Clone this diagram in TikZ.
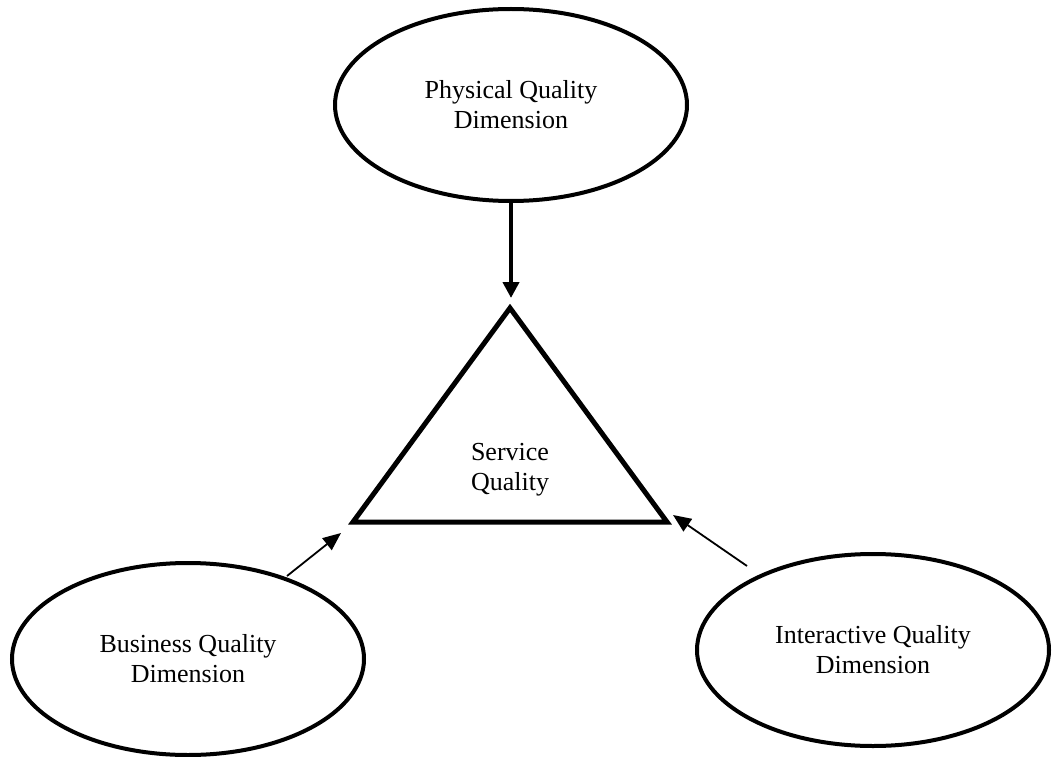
\documentclass[tikz,border=0pt]{standalone}
\usepackage{fontspec}
\setmainfont{Liberation Serif}
\usetikzlibrary{shapes.geometric,arrows.meta}
\begin{document}
\begin{tikzpicture}[x=1pt,y=-1pt,
  dimension/.style={ellipse,draw,line width=4pt,minimum width=352pt,minimum height=192pt,
    inner sep=0pt,align=center,font=\fontsize{26}{30}\selectfont},
  label/.style={align=center,font=\fontsize{26}{30}\selectfont,inner sep=0pt},
  thinarrow/.style={line width=1.8pt,-{Triangle[length=18pt,width=15pt]}},
  thickarrow/.style={line width=4pt,-{Triangle[length=16pt,width=16pt]}}]
  \useasboundingbox (0,0) rectangle (1052,757);

  % the three dimensions
  \node[dimension] (phys) at (511,105) {Physical Quality\\Dimension};
  \node[dimension] (bus) at (188,659) {Business Quality\\Dimension};
  \node[dimension] (inter) at (873,650) {Interactive Quality\\Dimension};

  % service quality triangle
  \coordinate (apex) at (510,308);
  \coordinate (bl) at (353,522);
  \coordinate (br) at (667,522);
  \draw[line width=5pt,line join=miter] (apex) -- (br) -- (bl) -- cycle;
  \node[label] (sq) at (510,470) {Service\\Quality};

  % arrow end points
  \coordinate (topTip) at (511,298);
  \coordinate (leftTip) at (341,533);
  \coordinate (leftTail) at (287,576);
  \coordinate (rightTip) at (673,515);
  \coordinate (rightTail) at (747,566);

  \draw[thickarrow] (phys.south) -- (topTip);
  \draw[thinarrow] (leftTail) -- (leftTip);
  \draw[thinarrow] (rightTail) -- (rightTip);
\end{tikzpicture}
\end{document}
